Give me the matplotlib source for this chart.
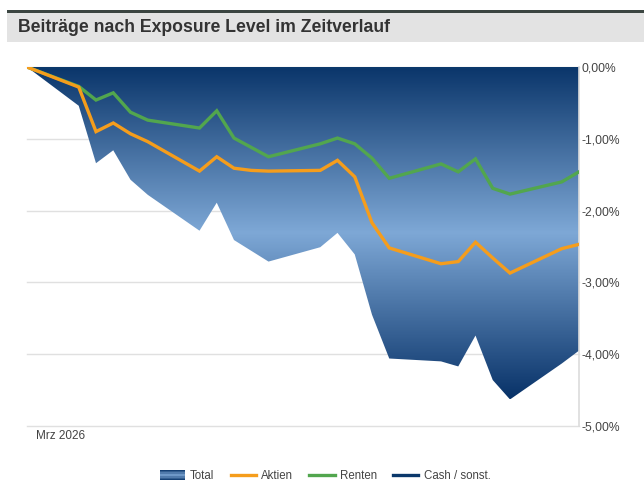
#!/usr/bin/env python3
"""Beitraege nach Exposure Level im Zeitverlauf - area + line chart."""

import matplotlib

matplotlib.use("Agg")

import matplotlib.pyplot as plt
import numpy as np
from matplotlib.colors import LinearSegmentedColormap
from matplotlib.legend_handler import HandlerBase
from matplotlib.lines import Line2D
from matplotlib.patches import Rectangle

plt.rcParams["font.family"] = ["Liberation Sans", "DejaVu Sans"]

# days since 27 Feb 2026 (trading days only)
DAYS = [0, 3, 4, 5, 6, 7, 10, 11, 12, 13, 14, 17, 18, 19, 20, 21, 24, 25, 26, 27, 28, 31, 32]
TOTAL = [0.0, -0.54, -1.34, -1.16, -1.57, -1.78, -2.28, -1.89, -2.41, -2.56, -2.71, -2.51,
         -2.31, -2.61, -3.45, -4.06, -4.10, -4.17, -3.74, -4.36, -4.63, -4.13, -3.95]
AKTIEN = [0.0, -0.28, -0.90, -0.78, -0.93, -1.04, -1.45, -1.25, -1.41, -1.44, -1.45, -1.44,
          -1.30, -1.53, -2.17, -2.52, -2.74, -2.71, -2.44, -2.66, -2.87, -2.53, -2.47]
RENTEN = [0.0, -0.27, -0.46, -0.36, -0.63, -0.74, -0.85, -0.61, -0.99, -1.12, -1.25, -1.07,
          -0.99, -1.07, -1.27, -1.55, -1.35, -1.46, -1.28, -1.69, -1.77, -1.60, -1.46]
CASH = [0.0] * len(DAYS)

Y_TICKS = [0, -1, -2, -3, -4, -5]
Y_LABELS = ["0,00%", "-1,00%", "-2,00%", "-3,00%", "-4,00%", "-5,00%"]
X_LABEL = "Mrz 2026"

NAVY = "#0b386b"
ORANGE = "#f59d1c"
GREEN = "#52a64e"
GRAD = LinearSegmentedColormap.from_list(
    "total", [(0.0, "#0a356a"), (0.5, "#7ea8d6"), (1.0, "#083268")]
)


class GradientHandler(HandlerBase):
    """Legend key for the gradient-filled total area."""

    def create_artists(self, legend, orig_handle, xdescent, ydescent, width, height, fontsize, trans):
        n = 8
        h = height * 1.3
        y0 = -ydescent - (h - height) / 2
        arts = []
        for i in range(n):
            c = GRAD(0.5 - abs(i / (n - 1) - 0.5) * 0.9)
            arts.append(Rectangle((-xdescent, y0 + h * i / n), width, h / n + 0.1,
                                  facecolor=c, edgecolor="none", transform=trans))
        return arts


def main() -> None:
    fig = plt.figure(figsize=(6.44, 4.92), dpi=100)

    # title bar
    fig.patches.append(Rectangle((7 / 644, 1 - 13 / 492), 1, 3 / 492, transform=fig.transFigure,
                                 facecolor="#3b4541", edgecolor="none"))
    fig.patches.append(Rectangle((7 / 644, 1 - 42 / 492), 1, 29 / 492, transform=fig.transFigure,
                                 facecolor="#e3e3e3", edgecolor="none"))
    fig.text(18 / 644, 1 - 28 / 492, "Beiträge nach Exposure Level im Zeitverlauf",
             fontsize=12.7, fontweight="bold", color="#333333", va="center", ha="left")

    ax = fig.add_axes([27 / 644, 1 - 426 / 492, 552 / 644, 359 / 492])
    x = np.array(DAYS, dtype=float)

    for t in Y_TICKS:
        ax.axhline(t, color="#e0e0e0", linewidth=1.0, zorder=0, clip_on=False)

    poly = ax.fill_between(x, 0, TOTAL, facecolor="none", edgecolor="none", zorder=1)
    low = min(TOTAL)
    grad = np.linspace(0, 1, 256).reshape(-1, 1)
    img = ax.imshow(grad, cmap=GRAD, aspect="auto", extent=[x[0], x[-1], low, 0],
                    origin="upper", zorder=1)
    img.set_clip_path(poly.get_paths()[0], transform=ax.transData)

    ax.plot(x, CASH, color=NAVY, linewidth=2.2, zorder=2)
    ax.plot(x, RENTEN, color=GREEN, linewidth=2.4, zorder=3, solid_joinstyle="miter")
    ax.plot(x, AKTIEN, color=ORANGE, linewidth=2.4, zorder=4, solid_joinstyle="miter")

    ax.set_xlim(x[0], x[-1])
    ax.set_ylim(-5, 0)
    ax.yaxis.tick_right()
    ax.set_yticks(Y_TICKS)
    ax.set_yticklabels(Y_LABELS)
    ax.set_xticks([])
    ax.text(9 / 552, -4 / 359, X_LABEL, transform=ax.transAxes, ha="left", va="top",
            fontsize=8.5, color="#444444")
    ax.tick_params(axis="y", length=0, pad=2, labelsize=8.7, labelcolor="#444444")
    for side in ["top", "left", "bottom"]:
        ax.spines[side].set_visible(False)
    ax.spines["right"].set_color("#dcdcdc")
    ax.spines["right"].set_linewidth(1.2)

    handles = [
        Rectangle((0, 0), 1, 1),
        Line2D([], [], color=ORANGE, linewidth=2.4),
        Line2D([], [], color=GREEN, linewidth=2.4),
        Line2D([], [], color=NAVY, linewidth=2.4),
    ]
    labels = ["Total", "Aktien", "Renten", "Cash / sonst."]
    fig.legend(handles, labels, loc="center", bbox_to_anchor=(325 / 644, 1 - 476 / 492),
               ncol=4, frameon=False, fontsize=8.3, handlelength=2.2, handletextpad=0.45,
               columnspacing=1.4, labelcolor="#444444",
               handler_map={Rectangle: GradientHandler()})

    fig.savefig("out.png", dpi=100)
    plt.close(fig)


if __name__ == "__main__":
    main()
